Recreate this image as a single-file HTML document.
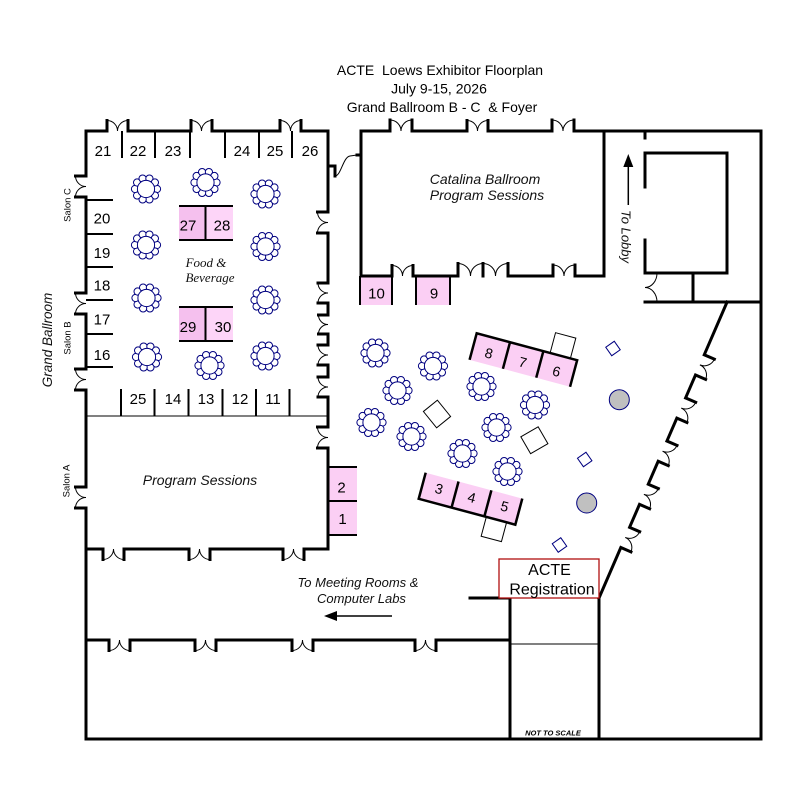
<!DOCTYPE html>
<html><head><meta charset="utf-8"><style>html,body{margin:0;padding:0;background:#fff}svg{display:block}text{font-family:"Liberation Sans",Arial,sans-serif}</style></head>
<body>
<svg width="800" height="800" viewBox="0 0 800 800" xmlns="http://www.w3.org/2000/svg">
<defs>
<g id="t">
<g fill="#fff" stroke="#000080" stroke-width="1">
<circle cx="11" cy="0" r="3.6"/><circle cx="8.9" cy="6.47" r="3.6"/><circle cx="3.4" cy="10.46" r="3.6"/><circle cx="-3.4" cy="10.46" r="3.6"/><circle cx="-8.9" cy="6.47" r="3.6"/><circle cx="-11" cy="0" r="3.6"/><circle cx="-8.9" cy="-6.47" r="3.6"/><circle cx="-3.4" cy="-10.46" r="3.6"/><circle cx="3.4" cy="-10.46" r="3.6"/><circle cx="8.9" cy="-6.47" r="3.6"/>
</g>
<circle r="8.6" fill="#fff" stroke="#000080" stroke-width="1"/>
</g>
</defs>
<rect width="800" height="800" fill="#fff"/>

<!-- Title -->
<g font-size="14" text-anchor="middle" fill="#000">
<text x="440" y="75">ACTE&#160; Loews Exhibitor Floorplan</text>
<text x="439" y="93.5">July 9-15, 2026</text>
<text x="442" y="112">Grand Ballroom B - C&#160; &amp; Foyer</text>
</g>

<!-- pink booths -->
<rect x="179" y="206" width="27" height="34" fill="#f5c0ee"/>
<rect x="206" y="206" width="27" height="34" fill="#fdd5f8"/>
<rect x="179" y="307" width="27" height="34" fill="#f5c0ee"/>
<rect x="206" y="307" width="27" height="34" fill="#fdd5f8"/>
<rect x="360" y="276" width="32" height="29" fill="#fbcff4"/>
<rect x="416" y="276" width="34" height="29" fill="#fbcff4"/>
<rect x="329" y="467" width="28" height="68" fill="#fbcff4"/>

<!-- booth lines -->
<g stroke="#000" stroke-width="2" fill="none">
<path d="M122 131V158M155 131V158M190 131V158M225 131V158M259 131V158M292 131V158"/>
<path d="M86 200H113M86 234H113M86 267H113M86 300H113M86 334H113M86 367H113"/>
<path d="M121 389V416M154.5 389V416M188.5 389V416M222.5 389V416M256 389V416M289.5 389V416"/>
<path d="M179 206H233M179 240H233M205.5 206V240M179 307H233M179 341H233M205.5 307V341"/>
<path d="M360 276V305M392 276V305M416 276V305M450 276V305"/>
<path d="M328 467H357M328 501H357M328 535H357"/>
</g>
<path d="M86 416H328" stroke="#000" stroke-width="1"/>

<!-- walls -->
<g stroke="#000" stroke-width="3" fill="none" stroke-linecap="square">
<path d="M86 131H107V120.5M128 120.5V131H191V120.5M212 120.5V131H280V120.5M301 120.5V131H328"/>
<path d="M86 131V176H75.5M75.5 197H86V293H75.5M75.5 314H86V369H75.5M75.5 390H86V487H75.5M75.5 508H86V739"/>
<path d="M328 131V212H317.5M317.5 233H328V283H318M318 303H328V315H318.5M318.5 334H328V345H318M318 365H328V377H318M318 397H328V427H317.5M317.5 448H328V549"/>
<path d="M86 549H103V559.5M124 559.5V549H189V559.5M210 559.5V549H283V559.5M304 559.5V549H328"/>
<path d="M86 640H109V650.5M130 650.5V640H195V650.5M216 650.5V640H292V650.5M313 650.5V640H415V650.5M436 650.5V640H510"/>
<path d="M86 739H761M761 131V739M604 131H761"/>
<path d="M361 276V131H390V120M412 120V131H467V120.5M488 120.5V131H552V120M574 120V131H604V276"/>
<path d="M361 276H392V265.5M413 265.5V276H458V263.5M483 263.5V276M508 263.5V276H553V265M575 265V276H604"/>
<path d="M645 131V138M645 187V153H727V273H645V240M693 273V302M645 302H761"/>
<path d="M470 598H510M510 598V739M599 598V739"/>
<path d="M328 166H335V176M361 155H357"/>
<g transform="translate(599 598) rotate(23.4)">
<path d="M0 0V-55H11M11 -77H0V-102H11M11 -124H0V-149H11M11 -171H0V-196H11M11 -218H0V-243H11M11 -265H0V-322.5"/>
</g>
</g>
<path d="M510 644H599" stroke="#000" stroke-width="1"/>

<!-- door arcs -->
<g stroke="#000" stroke-width="1" fill="none">
<path d="M107 120.5A10.5 10.5 0 0 1 117.5 131A10.5 10.5 0 0 1 128 120.5M191 120.5A10.5 10.5 0 0 1 201.5 131A10.5 10.5 0 0 1 212 120.5M280 120.5A10.5 10.5 0 0 1 290.5 131A10.5 10.5 0 0 1 301 120.5"/>
<path d="M390 120A11 11 0 0 1 401 131A11 11 0 0 1 412 120M467 120.5A10.5 10.5 0 0 1 477.5 131A10.5 10.5 0 0 1 488 120.5M552 120A11 11 0 0 1 563 131A11 11 0 0 1 574 120"/>
<path d="M392 265.5A10.5 10.5 0 0 1 402.5 276A10.5 10.5 0 0 1 413 265.5M458 263.5A12.5 12.5 0 0 1 470.5 276A12.5 12.5 0 0 1 483 263.5M483 263.5A12.5 12.5 0 0 1 495.5 276A12.5 12.5 0 0 1 508 263.5M553 265A11 11 0 0 1 564 276A11 11 0 0 1 575 265"/>
<path d="M75.5 176A10.5 10.5 0 0 0 86 186.5A10.5 10.5 0 0 0 75.5 197M75.5 293A10.5 10.5 0 0 0 86 303.5A10.5 10.5 0 0 0 75.5 314M75.5 369A10.5 10.5 0 0 0 86 379.5A10.5 10.5 0 0 0 75.5 390M75.5 487A10.5 10.5 0 0 0 86 497.5A10.5 10.5 0 0 0 75.5 508"/>
<path d="M317.5 212A10.5 10.5 0 0 0 328 222.5A10.5 10.5 0 0 0 317.5 233M318 283A10 10 0 0 0 328 293A10 10 0 0 0 318 303M318.5 315A9.5 9.5 0 0 0 328 324.5A9.5 9.5 0 0 0 318.5 334M318 345A10 10 0 0 0 328 355A10 10 0 0 0 318 365M318 377A10 10 0 0 0 328 387A10 10 0 0 0 318 397M317.5 427A10.5 10.5 0 0 0 328 437.5A10.5 10.5 0 0 0 317.5 448"/>
<path d="M103 559.5A10.5 10.5 0 0 0 113.5 549A10.5 10.5 0 0 0 124 559.5M189 559.5A10.5 10.5 0 0 0 199.5 549A10.5 10.5 0 0 0 210 559.5M283 559.5A10.5 10.5 0 0 0 293.5 549A10.5 10.5 0 0 0 304 559.5"/>
<path d="M109 650.5A10.5 10.5 0 0 0 119.5 640A10.5 10.5 0 0 0 130 650.5M195 650.5A10.5 10.5 0 0 0 205.5 640A10.5 10.5 0 0 0 216 650.5M292 650.5A10.5 10.5 0 0 0 302.5 640A10.5 10.5 0 0 0 313 650.5M415 650.5A10.5 10.5 0 0 0 425.5 640A10.5 10.5 0 0 0 436 650.5"/>
<path d="M657 273A12 14.5 0 0 1 645 287.5A12 14.5 0 0 1 657 302"/>
<path d="M335 176C341 176 343 157 350 156L357 155"/>
<g transform="translate(599 598) rotate(23.4)">
<path d="M11 -77A11 11 0 0 1 0 -66A11 11 0 0 1 11 -55M11 -124A11 11 0 0 1 0 -113A11 11 0 0 1 11 -102M11 -171A11 11 0 0 1 0 -160A11 11 0 0 1 11 -149M11 -218A11 11 0 0 1 0 -207A11 11 0 0 1 11 -196M11 -265A11 11 0 0 1 0 -254A11 11 0 0 1 11 -243"/>
</g>
</g>

<!-- ballroom tables -->
<use href="#t" x="146" y="189"/>
<use href="#t" x="205.5" y="182.5"/>
<use href="#t" x="265.5" y="194"/>
<use href="#t" x="146" y="245"/>
<use href="#t" x="265.5" y="246.5"/>
<use href="#t" x="146.5" y="298"/>
<use href="#t" x="265.5" y="300"/>
<use href="#t" x="147" y="357"/>
<use href="#t" x="209.5" y="365.5"/>
<use href="#t" x="265.5" y="356"/>

<!-- foyer tables -->
<use href="#t" x="375.5" y="353"/>
<use href="#t" x="433" y="366"/>
<use href="#t" x="397.5" y="390.5"/>
<use href="#t" x="481.5" y="386.5"/>
<use href="#t" x="535" y="405"/>
<use href="#t" x="371.5" y="422.5"/>
<use href="#t" x="411.5" y="436.5"/>
<use href="#t" x="496.5" y="427.5"/>
<use href="#t" x="462.5" y="453.5"/>
<use href="#t" x="507.5" y="471.5"/>

<!-- squares -->
<g fill="#fff" stroke="#000" stroke-width="1">
<rect x="-9" y="-10.5" width="18" height="21" transform="translate(437 414) rotate(-39)"/>
<rect x="-10" y="-10" width="20" height="19.5" transform="translate(534.5 440.5) rotate(-30)"/>
</g>
<g fill="#fff" stroke="#000080" stroke-width="1">
<rect x="-5.2" y="-5.2" width="10.4" height="10.4" transform="translate(613 348.5) rotate(-35)"/>
<rect x="-5.2" y="-5.2" width="10.4" height="10.4" transform="translate(584.7 459.5) rotate(-35)"/>
<rect x="-5.2" y="-5.2" width="10.4" height="10.4" transform="translate(559.5 545) rotate(-35)"/>
<circle cx="619.3" cy="399.7" r="10" fill="#c0c0c0"/>
<circle cx="586.7" cy="503" r="10" fill="#c0c0c0"/>
</g>

<!-- booths 8 7 6 -->
<g transform="translate(476.7 333.3) rotate(15)">
<rect x="76" y="-21" width="21" height="21" fill="#fff" stroke="#000" stroke-width="1"/>
<rect x="0" y="0" width="104" height="27.5" fill="#fbcff4"/>
<path d="M0 27.5V0H104V27.5M34.5 0V27.5M69 0V27.5" stroke="#000" stroke-width="2.5" fill="none"/>
<g font-size="14" text-anchor="middle" fill="#000">
<text x="17" y="21">8</text><text x="52" y="21">7</text><text x="87" y="21">6</text>
</g>
</g>

<!-- booths 3 4 5 -->
<g transform="translate(425.7 472.7) rotate(15)">
<rect x="70" y="27" width="21" height="20" fill="#fff" stroke="#000" stroke-width="1"/>
<rect x="0" y="0" width="100" height="27" fill="#fbcff4"/>
<path d="M0 0V27H100V0M34 0V27M68 0V27" stroke="#000" stroke-width="2.5" fill="none"/>
<g font-size="14" text-anchor="middle" fill="#000">
<text x="17" y="17">3</text><text x="51" y="17">4</text><text x="85" y="17">5</text>
</g>
</g>

<!-- booth numbers -->
<g font-size="15" text-anchor="middle" fill="#000">
<text x="103" y="156">21</text><text x="138" y="156">22</text><text x="173" y="156">23</text>
<text x="242" y="156">24</text><text x="275" y="156">25</text><text x="310" y="156">26</text>
<text x="102" y="223.5">20</text><text x="102" y="258">19</text><text x="102" y="290.5">18</text>
<text x="102" y="324.5">17</text><text x="102" y="360">16</text>
<text x="138" y="404">25</text><text x="173" y="404">14</text><text x="206" y="404">13</text>
<text x="240" y="404">12</text><text x="273" y="404">11</text>
<text x="188" y="230.5">27</text><text x="222" y="230.5">28</text>
<text x="188" y="332">29</text><text x="223" y="332">30</text>
<text x="376.5" y="298.5">10</text><text x="434" y="298.5">9</text>
<text x="341.5" y="492.5">2</text><text x="342.5" y="524">1</text>
</g>

<!-- labels -->
<text x="206" y="267" style="font-family:'Liberation Serif',serif;font-style:italic;font-size:13px" text-anchor="middle" fill="#111">Food &amp;</text>
<text x="210" y="282" style="font-family:'Liberation Serif',serif;font-style:italic;font-size:13px" text-anchor="middle" fill="#111">Beverage</text>
<g font-style="italic" font-size="14" text-anchor="middle" fill="#111">
<text x="485" y="184">Catalina Ballroom</text>
<text x="487" y="200">Program Sessions</text>
<text x="200" y="485">Program Sessions</text>
</g>
<g font-style="italic" font-size="13" text-anchor="middle" fill="#111">
<text x="358" y="587">To Meeting Rooms &amp;</text>
<text x="361.5" y="603">Computer Labs</text>
<text transform="translate(626 236.5) rotate(90)" x="0" y="4.5">To Lobby</text>
</g>
<text transform="translate(47 340) rotate(-90)" x="0" y="5" font-size="13.5" font-style="italic" text-anchor="middle" fill="#111">Grand Ballroom</text>
<g font-size="9.5" text-anchor="middle" fill="#000">
<text transform="translate(67 205) rotate(-90)" x="0" y="3.5">Salon C</text>
<text transform="translate(67 338) rotate(-90)" x="0" y="3.5">Salon B</text>
<text transform="translate(66 481) rotate(-90)" x="0" y="3.5">Salon A</text>
</g>

<!-- arrows -->
<path d="M628.3 166V205" stroke="#000" stroke-width="1.5"/>
<polygon points="628.3,154 623.3,167 633.3,167" fill="#000"/>
<path d="M336 616H392" stroke="#000" stroke-width="1.5"/>
<polygon points="324,616 337,611 337,621" fill="#000"/>

<!-- registration -->
<rect x="499" y="559" width="100" height="39" fill="#fff" stroke="#b01010" stroke-width="1.3"/>
<g font-size="16" text-anchor="middle" fill="#000">
<text x="549.5" y="575">ACTE</text>
<text x="552" y="594.5">Registration</text>
</g>
<text x="553" y="735.5" font-size="7.5" font-weight="bold" font-style="italic" text-anchor="middle" fill="#000">NOT TO SCALE</text>
</svg>
</body></html>
